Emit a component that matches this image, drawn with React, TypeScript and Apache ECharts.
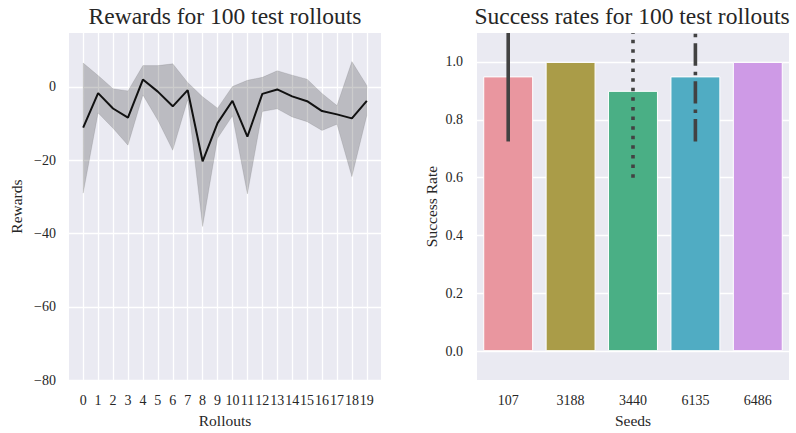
import React, { useEffect, useRef } from "react";
import * as echarts from "echarts";

// Rollout rewards: mean per rollout with its confidence band
const rollouts = [0, 1, 2, 3, 4, 5, 6, 7, 8, 9, 10, 11, 12, 13, 14, 15, 16, 17, 18, 19];
const meanReward = [-11.1, -1.7, -5.9, -8.4, 2.0, -1.3, -5.3, -0.9, -20.3, -9.9, -3.8, -13.6, -1.9, -0.7, -2.6, -3.9, -6.6, -7.5, -8.6, -3.8];
const upperReward = [6.5, 3.1, -0.5, -1.1, 5.8, 5.8, 6.3, 1.2, -2.7, -5.8, 0.1, 1.8, 2.6, 4.4, 3.2, 2.1, -1.8, -5.1, 6.9, 0.4];
const lowerReward = [-29.0, -7.1, -11.3, -15.9, -2.2, -9.1, -17.3, -3.5, -38.1, -14.0, -7.9, -29.2, -6.7, -6.0, -8.2, -9.5, -11.9, -10.2, -24.5, -7.8];
const rewardTicks = [-80, -60, -40, -20, 0];

// Success rate per seed with error-bar extents
const seeds = ["107", "3188", "3440", "6135", "6486"];
const successRate = [0.95, 1.0, 0.9, 0.95, 1.0];
const errLow: (number | null)[] = [0.725, null, 0.6, 0.725, null];
const errHigh: (number | null)[] = [1.175, null, 1.2, 1.175, null];
const errStyle = ["solid", "none", "dotted", "dashdot", "none"];
const barColors = ["#E9969F", "#AA9C48", "#4AAF85", "#50ACC3", "#CE9AE6"];
const rateTicks = [0, 0.2, 0.4, 0.6, 0.8, 1.0];

const RATE_MIN = -0.1;
const RATE_MAX = 1.1;

const FONT = "'Liberation Serif', 'Times New Roman', serif";
const TEXT = "#262626";
const BG = "#EAEAF2";

const dashFor: Record<string, number[] | undefined> = {
  solid: undefined,
  dotted: [3.5, 6.1],
  dashdot: [22.4, 6, 3.5, 6],
};

export default function App() {
  const ref = useRef<HTMLDivElement>(null);

  useEffect(() => {
    if (!ref.current) return;
    const chart = echarts.init(ref.current, undefined, { renderer: "svg" });

    const fmtMinus = (v: number) => (v < 0 ? "\u2212" + Math.abs(v) : String(v));

    const bandData = rollouts.map((r, i) => [r, lowerReward[i], upperReward[i]]);
    const errData = seeds
      .map((s, i) => [i, errLow[i], errHigh[i], i])
      .filter((d) => d[1] !== null);

    const titleStyle = { fontFamily: FONT, fontSize: 23.5, fontWeight: "normal", color: TEXT };

    chart.setOption({
      animation: false,
      backgroundColor: "#ffffff",
      textStyle: { fontFamily: FONT, color: TEXT },
      title: [
        {
          text: "Rewards for 100 test rollouts",
          left: 225,
          top: 4,
          padding: 0,
          textAlign: "center",
          textStyle: titleStyle,
        },
        {
          text: "Success rates for 100 test rollouts",
          left: 632,
          top: 4,
          padding: 0,
          textAlign: "center",
          textStyle: titleStyle,
        },
      ],
      grid: [
        { left: 69, top: 33, width: 312, height: 351, show: true, backgroundColor: BG, borderWidth: 0 },
        { left: 477, top: 33, width: 312, height: 351, show: true, backgroundColor: BG, borderWidth: 0 },
      ],
      xAxis: [
        {
          type: "value",
          gridIndex: 0,
          min: -0.95,
          max: 19.95,
          name: "Rollouts",
          nameLocation: "middle",
          nameGap: 31,
          nameTextStyle: { fontFamily: FONT, fontSize: 15.5, color: TEXT },
          axisLine: { show: false },
          axisTick: { show: false, customValues: rollouts },
          axisLabel: { customValues: rollouts, margin: 13, fontFamily: FONT, fontSize: 14, color: TEXT },
          splitLine: { show: true, lineStyle: { color: "#ffffff", width: 1.3 } },
        },
        {
          type: "category",
          gridIndex: 1,
          data: seeds,
          name: "Seeds",
          nameLocation: "middle",
          nameGap: 31,
          nameTextStyle: { fontFamily: FONT, fontSize: 15.5, color: TEXT },
          axisLine: { show: false },
          axisTick: { show: false },
          axisLabel: { margin: 13, fontFamily: FONT, fontSize: 14, color: TEXT },
          splitLine: { show: false },
        },
      ],
      yAxis: [
        {
          type: "value",
          gridIndex: 0,
          min: -80,
          max: 14.7,
          name: "Rewards",
          nameLocation: "middle",
          nameGap: 45,
          nameTextStyle: { fontFamily: FONT, fontSize: 15.5, color: TEXT },
          axisLine: { show: false },
          axisTick: { show: false, customValues: rewardTicks },
          axisLabel: {
            customValues: rewardTicks,
            margin: 13,
            fontFamily: FONT,
            fontSize: 14,
            color: TEXT,
            formatter: (v: number) => fmtMinus(v),
          },
          splitLine: { show: true, lineStyle: { color: "#ffffff", width: 1.3 } },
        },
        {
          type: "value",
          gridIndex: 1,
          min: RATE_MIN,
          max: RATE_MAX,
          name: "Success Rate",
          nameLocation: "middle",
          nameGap: 38,
          nameTextStyle: { fontFamily: FONT, fontSize: 15.5, color: TEXT },
          axisLine: { show: false },
          axisTick: { show: false, customValues: rateTicks },
          axisLabel: {
            customValues: rateTicks,
            margin: 14,
            fontFamily: FONT,
            fontSize: 14,
            color: TEXT,
            formatter: (v: number) => v.toFixed(1),
          },
          splitLine: { show: true, lineStyle: { color: "#ffffff", width: 1.3 } },
        },
      ],
      series: [
        {
          // confidence band around the mean reward
          type: "custom",
          xAxisIndex: 0,
          yAxisIndex: 0,
          data: bandData,
          encode: { x: 0, y: [1, 2] },
          silent: true,
          z: 2,
          renderItem: (params: any, api: any) => {
            if (params.dataIndex !== 0) return null;
            const top = bandData.map((d) => api.coord([d[0], d[2]]));
            const bottom = bandData.map((d) => api.coord([d[0], d[1]])).reverse();
            return {
              type: "polygon",
              shape: { points: top.concat(bottom) },
              style: { fill: "rgba(0,0,0,0.2)", stroke: "rgba(0,0,0,0.12)", lineWidth: 0.8 },
            };
          },
        },
        {
          type: "line",
          xAxisIndex: 0,
          yAxisIndex: 0,
          data: rollouts.map((r, i) => [r, meanReward[i]]),
          showSymbol: false,
          lineStyle: { color: "#111111", width: 2 },
          z: 3,
        },
        {
          type: "bar",
          xAxisIndex: 1,
          yAxisIndex: 1,
          data: successRate.map((v, i) => ({
            value: v,
            itemStyle: { color: barColors[i], borderColor: "#ffffff", borderWidth: 1 },
          })),
          barWidth: "80%",
          z: 2,
        },
        {
          // error bars, drawn from the lower end upward and clipped to the plot
          type: "custom",
          xAxisIndex: 1,
          yAxisIndex: 1,
          data: errData,
          encode: { x: 0, y: [1, 2] },
          clip: true,
          silent: true,
          z: 4,
          renderItem: (params: any, api: any) => {
            const d = errData[params.dataIndex] as number[];
            const hi = Math.min(d[2], RATE_MAX);
            const p0 = api.coord([d[0], d[1]]);
            const p1 = api.coord([d[0], hi]);
            const style = errStyle[d[3]];
            return {
              type: "line",
              shape: { x1: p0[0], y1: p0[1], x2: p1[0], y2: p1[1] },
              style: {
                stroke: "#424242",
                lineWidth: 3.6,
                lineDash: dashFor[style],
                lineCap: "butt",
              },
            };
          },
        },
      ],
    });

    return () => chart.dispose();
  }, []);

  return (
    <div
      ref={ref}
      style={{ position: "fixed", left: 0, top: 0, width: 796, height: 433, background: "#fff" }}
    />
  );
}
